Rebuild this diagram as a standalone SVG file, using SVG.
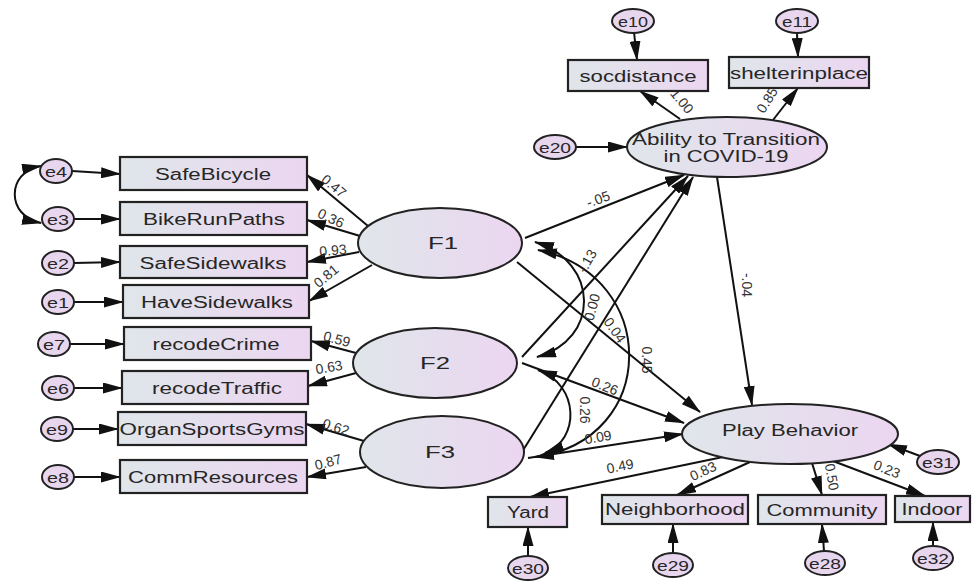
<svg xmlns="http://www.w3.org/2000/svg" width="973" height="582" viewBox="0 0 973 582">
<defs>
<linearGradient id="g" x1="0" y1="0" x2="1" y2="0">
<stop offset="0" stop-color="#dfe6ea"/>
<stop offset="1" stop-color="#ecd6f1"/>
</linearGradient>
<marker id="ah" markerUnits="userSpaceOnUse" markerWidth="20" markerHeight="11" refX="19" refY="5.5" orient="auto-start-reverse">
<path d="M0,0 L20,5.5 L0,11 z" fill="#111"/>
</marker>
<style>
.box{fill:url(#g);stroke:#222;stroke-width:2.2}
.err{fill:#e8d6ef;stroke:#222;stroke-width:2}
.lat{fill:url(#g);stroke:#222;stroke-width:2}
.t{font-family:"Liberation Sans",Arial,sans-serif;font-size:16px;fill:#262626;text-anchor:middle;dominant-baseline:central}
.te{font-family:"Liberation Sans",Arial,sans-serif;font-size:15px;fill:#262626;text-anchor:middle;dominant-baseline:central}
.n{font-family:"Liberation Sans",Arial,sans-serif;font-size:14px;fill:#333;text-anchor:middle;dominant-baseline:central}
.c path,.c line{fill:none;stroke:#111;stroke-width:2;marker-end:url(#ah)}
.c .d{marker-start:url(#ah)}
</style>
</defs>
<rect width="973" height="582" fill="#fff"/>

<g class="c" id="connectors">
<path class="d" d="M41,166 C6,172 6,216 41,223"/>
<line x1="72" y1="171" x2="120" y2="174"/>
<line x1="74" y1="219" x2="120" y2="219"/>
<line x1="74" y1="263" x2="120" y2="262"/>
<line x1="74" y1="302" x2="123" y2="302"/>
<line x1="70" y1="344" x2="124" y2="344"/>
<line x1="74" y1="388" x2="122" y2="388"/>
<line x1="73" y1="429" x2="118" y2="429"/>
<line x1="74" y1="477" x2="120" y2="477"/>
<line x1="368" y1="226" x2="307" y2="175"/>
<line x1="360" y1="236" x2="307" y2="220"/>
<line x1="359" y1="252" x2="307" y2="262"/>
<line x1="372" y1="265" x2="309" y2="301"/>
<line x1="356" y1="353" x2="311" y2="341"/>
<line x1="356" y1="373" x2="308" y2="386"/>
<line x1="364" y1="441" x2="306" y2="424"/>
<line x1="366" y1="467" x2="307" y2="477"/>
<line x1="634" y1="32" x2="637" y2="60"/>
<line x1="797" y1="33" x2="798" y2="57"/>
<line x1="576" y1="147" x2="627" y2="147"/>
<line x1="680" y1="119" x2="640" y2="91"/>
<line x1="773" y1="120" x2="798" y2="88"/>
<line x1="525" y1="238" x2="684" y2="175"/>
<line x1="522" y1="357" x2="688" y2="176"/>
<line x1="522" y1="452" x2="693" y2="177"/>
<path class="d" d="M535,242 C600,262 600,340 537,357"/>
<path class="d" d="M538,250 C660,275 660,440 535,457"/>
<path class="d" d="M538,370 C580,385 580,440 545,453"/>
<line x1="517" y1="262" x2="700" y2="412"/>
<line x1="522" y1="363" x2="684" y2="423"/>
<line x1="528" y1="458" x2="683" y2="434"/>
<line x1="717" y1="177" x2="752" y2="405"/>
<line x1="723" y1="457" x2="530" y2="497"/>
<line x1="750" y1="462" x2="677" y2="495"/>
<line x1="812" y1="463" x2="822" y2="495"/>
<line x1="833" y1="461" x2="925" y2="496"/>
<line x1="920" y1="456" x2="888" y2="444"/>
<line x1="528" y1="556" x2="528" y2="527"/>
<line x1="673" y1="553" x2="673" y2="524"/>
<line x1="824" y1="551" x2="822" y2="524"/>
<line x1="933" y1="546" x2="933" y2="522"/>
</g>

<g id="labels">
<text class="n" transform="translate(334,186) rotate(40)">0.47</text>
<text class="n" transform="translate(331,218) rotate(25)">0.36</text>
<text class="n" transform="translate(333,250) rotate(-5)">0.93</text>
<text class="n" transform="translate(326,276) rotate(-40)">0.81</text>
<text class="n" transform="translate(337,339) rotate(15)">0.59</text>
<text class="n" transform="translate(329,367) rotate(-10)">0.63</text>
<text class="n" transform="translate(336,427) rotate(18)">0.62</text>
<text class="n" transform="translate(328,462) rotate(-15)">0.87</text>
<text class="n" transform="translate(682,101) rotate(50)">1.00</text>
<text class="n" transform="translate(767,100) rotate(-58)">0.85</text>
<text class="n" transform="translate(598,199) rotate(-20)">-.05</text>
<text class="n" transform="translate(587,261) rotate(-60)">-.13</text>
<text class="n" transform="translate(592,307) rotate(-75)">0.00</text>
<text class="n" transform="translate(615,330) rotate(55)">0.04</text>
<text class="n" transform="translate(647,360) rotate(90)">0.45</text>
<text class="n" transform="translate(605,386) rotate(22)">0.26</text>
<text class="n" transform="translate(585,410) rotate(90)">0.26</text>
<text class="n" transform="translate(598,437) rotate(-10)">0.09</text>
<text class="n" transform="translate(747,285) rotate(90)">-.04</text>
<text class="n" transform="translate(620,466) rotate(-12)">0.49</text>
<text class="n" transform="translate(703,471) rotate(-25)">0.83</text>
<text class="n" transform="translate(832,477) rotate(80)">0.50</text>
<text class="n" transform="translate(887,469) rotate(22)">0.23</text>
</g>

<g id="SafeBicycle"><rect class="box" x="120" y="157" width="187" height="33"/><text class="t" x="213" y="174" textLength="116" lengthAdjust="spacingAndGlyphs">SafeBicycle</text></g>
<g id="BikeRunPaths"><rect class="box" x="120" y="202" width="187" height="33"/><text class="t" x="214" y="219" textLength="142" lengthAdjust="spacingAndGlyphs">BikeRunPaths</text></g>
<g id="SafeSidewalks"><rect class="box" x="120" y="246" width="187" height="32"/><text class="t" x="213" y="263" textLength="147" lengthAdjust="spacingAndGlyphs">SafeSidewalks</text></g>
<g id="HaveSidewalks"><rect class="box" x="123" y="285" width="186" height="33"/><text class="t" x="217" y="302" textLength="152" lengthAdjust="spacingAndGlyphs">HaveSidewalks</text></g>
<g id="recodeCrime"><rect class="box" x="124" y="327" width="187" height="33"/><text class="t" x="216" y="344" textLength="127" lengthAdjust="spacingAndGlyphs">recodeCrime</text></g>
<g id="recodeTraffic"><rect class="box" x="122" y="371" width="186" height="33"/><text class="t" x="217" y="388" textLength="130" lengthAdjust="spacingAndGlyphs">recodeTraffic</text></g>
<g id="OrganSportsGyms"><rect class="box" x="118" y="412" width="188" height="33"/><text class="t" x="212" y="429" textLength="185" lengthAdjust="spacingAndGlyphs">OrganSportsGyms</text></g>
<g id="CommResources"><rect class="box" x="120" y="460" width="187" height="33"/><text class="t" x="213" y="477" textLength="170" lengthAdjust="spacingAndGlyphs">CommResources</text></g>
<g id="socdistance"><rect class="box" x="568" y="60" width="140" height="31"/><text class="t" x="638" y="76" textLength="117" lengthAdjust="spacingAndGlyphs">socdistance</text></g>
<g id="shelterinplace"><rect class="box" x="729" y="57" width="140" height="31"/><text class="t" x="799" y="73" textLength="138" lengthAdjust="spacingAndGlyphs">shelterinplace</text></g>
<g id="Yard"><rect class="box" x="488" y="497" width="79" height="30"/><text class="t" x="528" y="512" textLength="42" lengthAdjust="spacingAndGlyphs">Yard</text></g>
<g id="Neighborhood"><rect class="box" x="602" y="495" width="146" height="29"/><text class="t" x="675" y="509" textLength="140" lengthAdjust="spacingAndGlyphs">Neighborhood</text></g>
<g id="Community"><rect class="box" x="758" y="495" width="128" height="29"/><text class="t" x="822" y="510" textLength="111" lengthAdjust="spacingAndGlyphs">Community</text></g>
<g id="Indoor"><rect class="box" x="895" y="496" width="75" height="26"/><text class="t" x="932" y="509" textLength="61" lengthAdjust="spacingAndGlyphs">Indoor</text></g>

<g id="F1"><ellipse class="lat" cx="440" cy="243" rx="82" ry="35"/><text class="t" x="443" y="243" textLength="30" lengthAdjust="spacingAndGlyphs">F1</text></g>
<g id="F2"><ellipse class="lat" cx="435" cy="363" rx="82" ry="35"/><text class="t" x="435" y="363" textLength="30" lengthAdjust="spacingAndGlyphs">F2</text></g>
<g id="F3"><ellipse class="lat" cx="442" cy="452" rx="82" ry="36"/><text class="t" x="440" y="452" textLength="30" lengthAdjust="spacingAndGlyphs">F3</text></g>
<g id="Ability"><ellipse class="lat" cx="727" cy="147" rx="100" ry="30"/><text class="t" x="726" y="139" textLength="188" lengthAdjust="spacingAndGlyphs">Ability to Transition</text><text class="t" x="726" y="156" textLength="125" lengthAdjust="spacingAndGlyphs">in COVID-19</text></g>
<g id="PlayBehavior"><ellipse class="lat" cx="790" cy="434" rx="108" ry="30"/><text class="t" x="790" y="430" textLength="136" lengthAdjust="spacingAndGlyphs">Play Behavior</text></g>

<g id="e4"><ellipse class="err" cx="56" cy="171" rx="16" ry="12"/><text class="te" x="56" y="171" textLength="22" lengthAdjust="spacingAndGlyphs">e4</text></g>
<g id="e3"><ellipse class="err" cx="58" cy="219" rx="16" ry="12"/><text class="te" x="58" y="219" textLength="22" lengthAdjust="spacingAndGlyphs">e3</text></g>
<g id="e2"><ellipse class="err" cx="58" cy="263" rx="16" ry="12"/><text class="te" x="58" y="263" textLength="22" lengthAdjust="spacingAndGlyphs">e2</text></g>
<g id="e1"><ellipse class="err" cx="58" cy="302" rx="16" ry="12"/><text class="te" x="58" y="302" textLength="22" lengthAdjust="spacingAndGlyphs">e1</text></g>
<g id="e7"><ellipse class="err" cx="54" cy="344" rx="16" ry="12"/><text class="te" x="54" y="344" textLength="22" lengthAdjust="spacingAndGlyphs">e7</text></g>
<g id="e6"><ellipse class="err" cx="58" cy="388" rx="16" ry="12"/><text class="te" x="58" y="388" textLength="22" lengthAdjust="spacingAndGlyphs">e6</text></g>
<g id="e9"><ellipse class="err" cx="57" cy="429" rx="16" ry="12"/><text class="te" x="57" y="429" textLength="22" lengthAdjust="spacingAndGlyphs">e9</text></g>
<g id="e8"><ellipse class="err" cx="58" cy="477" rx="16" ry="12"/><text class="te" x="58" y="477" textLength="22" lengthAdjust="spacingAndGlyphs">e8</text></g>
<g id="e10"><ellipse class="err" cx="633" cy="21" rx="21" ry="12"/><text class="te" x="633" y="21" textLength="30" lengthAdjust="spacingAndGlyphs">e10</text></g>
<g id="e11"><ellipse class="err" cx="797" cy="21" rx="21" ry="12"/><text class="te" x="797" y="21" textLength="30" lengthAdjust="spacingAndGlyphs">e11</text></g>
<g id="e20"><ellipse class="err" cx="555" cy="147" rx="21" ry="12"/><text class="te" x="555" y="147" textLength="32" lengthAdjust="spacingAndGlyphs">e20</text></g>
<g id="e31"><ellipse class="err" cx="938" cy="462" rx="21" ry="12"/><text class="te" x="938" y="462" textLength="32" lengthAdjust="spacingAndGlyphs">e31</text></g>
<g id="e30"><ellipse class="err" cx="528" cy="568" rx="20" ry="12"/><text class="te" x="528" y="568" textLength="32" lengthAdjust="spacingAndGlyphs">e30</text></g>
<g id="e29"><ellipse class="err" cx="673" cy="565" rx="20" ry="12"/><text class="te" x="673" y="565" textLength="32" lengthAdjust="spacingAndGlyphs">e29</text></g>
<g id="e28"><ellipse class="err" cx="825" cy="563" rx="20" ry="12"/><text class="te" x="825" y="563" textLength="32" lengthAdjust="spacingAndGlyphs">e28</text></g>
<g id="e32"><ellipse class="err" cx="933" cy="558" rx="20" ry="12"/><text class="te" x="933" y="558" textLength="32" lengthAdjust="spacingAndGlyphs">e32</text></g>
</svg>
